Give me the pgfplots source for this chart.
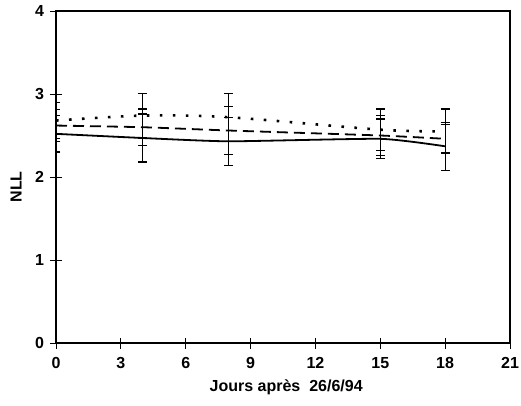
\documentclass[border=0pt]{standalone}
\usepackage{fontspec}
\setmainfont{Liberation Sans}
\usepackage{pgfplots}
\pgfplotsset{compat=1.18}
\begin{document}
\begin{tikzpicture}
\begin{axis}[
  scale only axis,
  width=454pt, height=332pt,
  xmin=0, xmax=21, ymin=0, ymax=4,
  xtick={0,3,...,21}, ytick={0,1,2,3,4},
  xtick pos=left, ytick pos=left,
  tick align=center,
  major tick length=11pt,
  tick style={black, line width=0.9pt},
  axis line style={black, line width=1.2pt},
  /pgf/number format/assume math mode=true,
  ticklabel style={font=\fontsize{16}{18}\selectfont\bfseries},
  xticklabel style={yshift=-5pt},
  yticklabel style={xshift=-3pt},
  xlabel={Jours après\ \ 26/6/94},
  ylabel={NLL},
  label style={font=\fontsize{16}{18}\selectfont\bfseries},
  xlabel style={at={(axis description cs:0.507,0)}, anchor=center, yshift=-44pt},
  ylabel style={at={(axis description cs:-0.088,0.47)}, anchor=center},
  error bars/y dir=both, error bars/y explicit,
  error bars/error bar style={solid, line width=1pt, black},
  error bars/error mark options={solid, line width=1.3pt, black, mark size=4.5pt, rotate=90},
]
% solid
\addplot[black, line width=1.8pt, smooth, tension=0.3] coordinates {
  (0,2.52) +- (0,0.22)
  (4,2.47) +- (0,0.29)
  (8,2.43) +- (0,0.29)
  (15,2.46) +- (0,0.24)
  (18,2.37) +- (0,0.29)
};
% dashed
\addplot[black, line width=1.8pt, dash pattern=on 11pt off 6pt, smooth, tension=0.3] coordinates {
  (0,2.62) +- (0,0.19)
  (4,2.60) +- (0,0.22)
  (8,2.56) +- (0,0.29)
  (15,2.50) +- (0,0.24)
  (18,2.46) +- (0,0.17)
};
% dotted
\addplot[black, line width=2.6pt, dash pattern=on 2.6pt off 10.4pt, smooth, tension=0.5] coordinates {
  (0,2.68) +- (0,0.22)
  (4,2.74) +- (0,0.27)
  (8,2.72) +- (0,0.29)
  (15,2.57) +- (0,0.25)
  (18,2.55) +- (0,0.27)
};
\end{axis}
\pgfresetboundingbox
\path (-56pt,-62pt) rectangle (465pt,343pt);
\end{tikzpicture}
\end{document}
